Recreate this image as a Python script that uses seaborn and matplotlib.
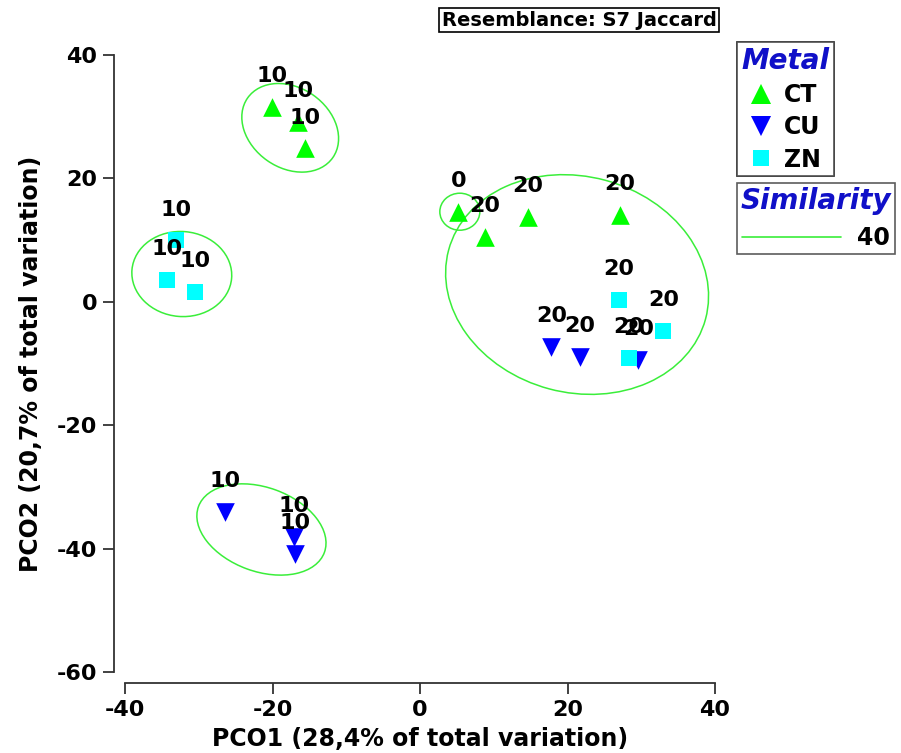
import numpy as np
import pandas as pd
import seaborn as sns
import matplotlib
matplotlib.use("Agg")
import matplotlib.pyplot as plt
from matplotlib.patches import Ellipse
from matplotlib.transforms import ScaledTranslation
from matplotlib.lines import Line2D

# ---------------- data ----------------
metal = ["CT"] * 7 + ["CU"] * 6 + ["ZN"] * 6
pco1 = [-20.1, -16.5, -15.6, 5.2, 8.8, 14.6, 27.1,
        17.8, 21.7, 29.6, -26.4, -17.1, -16.9,
        -33.1, -34.3, -30.5, 27.0, 33.0, 28.3]
pco2 = [31.6, 29.2, 24.9, 14.6, 10.5, 13.8, 14.1,
        -7.3, -8.9, -9.4, -34.0, -38.1, -40.8,
        10.0, 3.6, 1.6, 0.3, -4.7, -9.1]
point_labels = ["10", "10", "10", "0", "20", "20", "20",
                "20", "20", "20", "10", "10", "10",
                "10", "10", "10", "20", "20", "20"]

# similarity (40) contours: centre in data units, axes in pixels, angle
ell_cx = [-17.6, 5.4, 21.3, -32.3, -21.5]
ell_cy = [28.2, 14.6, 2.8, 4.5, -36.9]
ell_w = [104, 40, 266, 100, 134]
ell_h = [80, 37, 216, 85, 84]
ell_angle = [-35, 0, -15, -5, -20]

x_ticks = [-40, -20, 0, 20, 40]
y_ticks = [-60, -40, -20, 0, 20, 40]

df = pd.DataFrame({"Metal": metal, "PCO1": pco1, "PCO2": pco2, "label": point_labels})

# ---------------- style ----------------
sns.set_style("white")
plt.rcParams["font.family"] = ["DejaVu Sans"]
plt.rcParams["font.weight"] = "bold"
plt.rcParams["text.color"] = "black"
plt.rcParams["axes.labelcolor"] = "black"
plt.rcParams["xtick.color"] = "black"
plt.rcParams["ytick.color"] = "black"

palette = {"CT": "#00FF00", "CU": "#0000FF", "ZN": "#00FFFF"}
markers = {"CT": "^", "CU": "v", "ZN": "s"}
sizes = {"CT": 180, "CU": 180, "ZN": 140}
ell_color = "#3AEE3A"
axis_color = "#333333"
title_blue = "#1010C8"

fig = plt.figure(figsize=(9.01, 7.53), dpi=100)
ax = fig.add_axes([125 / 901, 1 - 672 / 753, 590 / 901, 617 / 753])

for m in ["CT", "CU", "ZN"]:
    sub = df[df["Metal"] == m]
    sns.scatterplot(data=sub, x="PCO1", y="PCO2", color=palette[m], marker=markers[m],
                    s=sizes[m], linewidth=0, ax=ax, legend=False, zorder=3, clip_on=False)

for i in range(len(ell_cx)):
    tr = fig.dpi_scale_trans + ScaledTranslation(ell_cx[i], ell_cy[i], ax.transData)
    e = Ellipse((0, 0), ell_w[i] / 100, ell_h[i] / 100, angle=ell_angle[i],
                transform=tr, fill=False, edgecolor=ell_color, lw=1.1, zorder=2, clip_on=False)
    ax.add_patch(e)

for x, y, t in zip(pco1, pco2, point_labels):
    ax.annotate(t, (x, y), xytext=(0, 22), textcoords="offset points", ha="center",
                va="center", fontsize=16, fontweight="bold", color="black", zorder=5,
                annotation_clip=False)

ax.set_xlim(-40, 40)
ax.set_ylim(-60, 40)
for s in ["top", "right"]:
    ax.spines[s].set_visible(False)
ax.spines["left"].set_position(("outward", 8))
ax.spines["bottom"].set_position(("outward", 8))
ax.spines["left"].set_bounds(-60, 40)
ax.spines["bottom"].set_bounds(-40, 40)
for s in ["left", "bottom"]:
    ax.spines[s].set_color(axis_color)
    ax.spines[s].set_linewidth(1.3)
ax.set_xticks(x_ticks)
ax.set_yticks(y_ticks)
ax.set_xticklabels([str(v) for v in x_ticks])
ax.set_yticklabels([str(v) for v in y_ticks])
ax.tick_params(axis="both", direction="out", length=8, width=1.3, color=axis_color,
               labelcolor="black", pad=4, bottom=True, left=True, labelsize=16)
for lab in ax.get_xticklabels() + ax.get_yticklabels():
    lab.set_fontweight("bold")
ax.set_xlabel("PCO1 (28,4% of total variation)", fontsize=17, fontweight="bold",
              labelpad=5, color="black")
ax.set_ylabel("PCO2 (20,7% of total variation)", fontsize=17, fontweight="bold",
              labelpad=10, color="black")

# legends
metal_handles = [Line2D([0], [0], marker=markers[m], color="none", markerfacecolor=palette[m],
                        markeredgewidth=0, markersize=14 if m != "ZN" else 12, label=m)
                 for m in ["CT", "CU", "ZN"]]
leg1 = fig.legend(handles=metal_handles, loc="upper left",
                  bbox_to_anchor=(737 / 901, 1 - 42 / 753), frameon=True, fancybox=False,
                  edgecolor="#333333", prop={"size": 17, "weight": "bold"},
                  title="Metal", title_fontproperties={"size": 20, "weight": "bold", "style": "italic"},
                  handlelength=0.9, handletextpad=0.5, borderpad=0.2, labelspacing=0.35,
                  borderaxespad=0)
leg1.get_title().set_color(title_blue)
leg1.get_frame().set_linewidth(1.2)

sim_handles = [Line2D([0], [0], color=ell_color, lw=1.2, label="40")]
leg2 = fig.legend(handles=sim_handles, loc="upper left",
                  bbox_to_anchor=(737 / 901, 1 - 183 / 753), frameon=True, fancybox=False,
                  edgecolor="#333333", prop={"size": 17, "weight": "bold"},
                  title="Similarity", title_fontproperties={"size": 20, "weight": "bold", "style": "italic"},
                  handlelength=4.2, handletextpad=0.7, borderpad=0.15, borderaxespad=0)
leg2.get_title().set_color(title_blue)
leg2.get_frame().set_linewidth(1.2)
fig.add_artist(leg1)

fig.text(579 / 901, 1 - 20 / 753, "Resemblance: S7 Jaccard", ha="center", va="center",
         fontsize=14, fontweight="bold", color="black",
         bbox=dict(boxstyle="square,pad=0.15", facecolor="white", edgecolor="black", lw=1.2))

fig.savefig("out.png", dpi=100)
